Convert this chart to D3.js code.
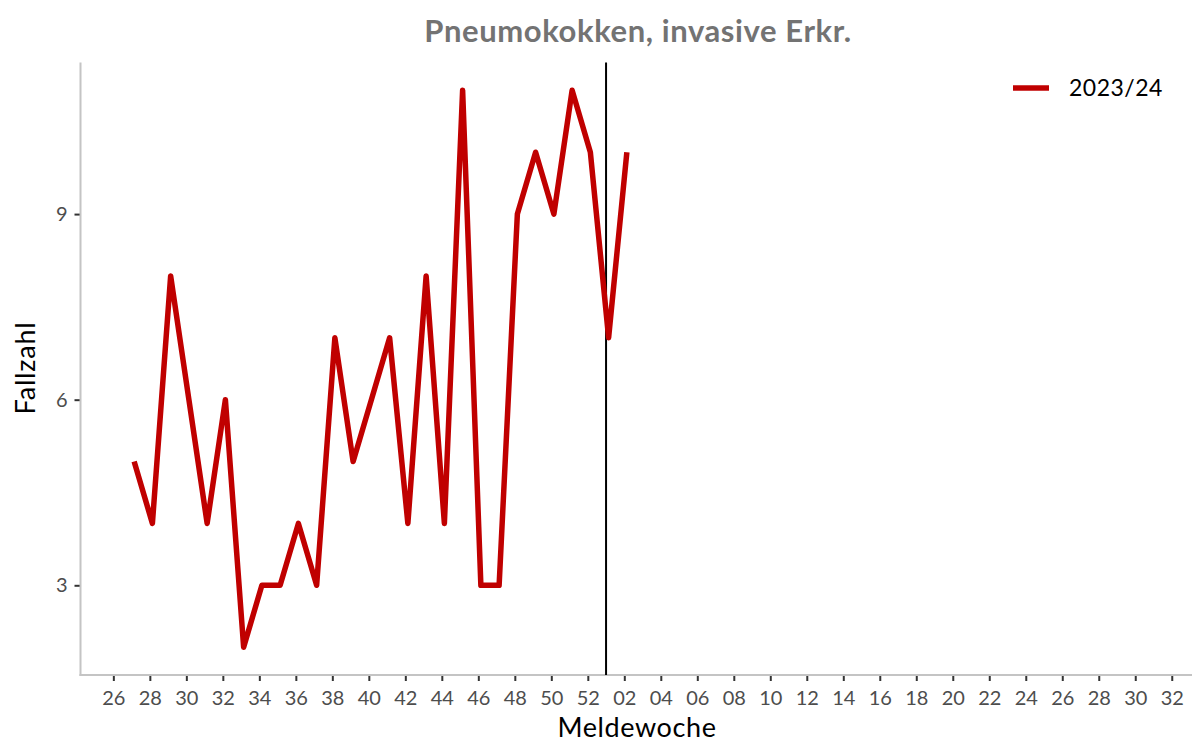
<!DOCTYPE html>
<html><head><meta charset="utf-8">
<script src="https://cdn.jsdelivr.net/npm/d3@7"></script>
<style>body{margin:0;background:#fff}svg{display:block}text{font-family:Lato,"Open Sans",sans-serif}</style>
</head><body><svg id="c" width="1192" height="742"></svg>
<script>
// axis week sequence (season 26 .. 52, 01 .. 32)
const axisWeeks = ["26","27","28","29","30","31","32","33","34","35","36","37","38","39","40","41","42","43","44","45","46","47","48","49","50","51","52","01","02","03","04","05","06","07","08","09","10","11","12","13","14","15","16","17","18","19","20","21","22","23","24","25","26b","27b","28b","29b","30b","31b","32b"];
const tickWeeks = ["26","28","30","32","34","36","38","40","42","44","46","48","50","52","02","04","06","08","10","12","14","16","18","20","22","24","26b","28b","30b","32b"];
const dataWeeks = ["27","28","29","30","31","32","33","34","35","36","37","38","39","40","41","42","43","44","45","46","47","48","49","50","51","52","01","02"];
const cases2023 = [5,4,8,6,4,6,2,3,3,4,3,7,5,6,7,4,8,4,11,3,3,9,10,9,11,10,7,10];
const yTicks = [3,6,9];
const currentWeek = "01";
const seriesName = "2023/24";
const title = "Pneumokokken, invasive Erkr.";

const svg = d3.select("#c");
const L = 80.5, R = 1190, T = 62.5, B = 675;
const idx = w => axisWeeks.indexOf(w);
const x = d3.scaleLinear().domain([-1.8, 59.0]).range([L, R]);
const y = d3.scaleLinear().domain([1.55, 11.45]).range([B, T]);
const dataShift = 0.14; // data plotted slightly after the week tick

// axes
const xAxis = d3.axisBottom(x).tickValues(tickWeeks.map(idx)).tickSize(6).tickPadding(9)
  .tickFormat(i => axisWeeks[i].replace("b",""));
const gx = svg.append("g").attr("transform", `translate(0,${B})`).call(xAxis);
gx.select(".domain").remove();
gx.selectAll(".tick line").attr("stroke", "#333").attr("stroke-width", 2);
gx.selectAll(".tick text").attr("fill", "#4d4d4d").attr("font-size", 20).attr("dy", "0.75em");

const yAxis = d3.axisLeft(y).tickValues(yTicks).tickSize(6).tickPadding(7);
const gy = svg.append("g").attr("transform", `translate(${L},0)`).call(yAxis);
gy.select(".domain").remove();
gy.selectAll(".tick line").attr("stroke", "#333").attr("stroke-width", 2);
gy.selectAll(".tick text").attr("fill", "#4d4d4d").attr("font-size", 20);

svg.append("line").attr("x1", L).attr("x2", L).attr("y1", T).attr("y2", B+1)
  .attr("stroke", "#c4c4c4").attr("stroke-width", 2);
svg.append("line").attr("x1", L-1).attr("x2", R+2).attr("y1", B).attr("y2", B)
  .attr("stroke", "#c4c4c4").attr("stroke-width", 2);

// current week marker
svg.append("line").attr("x1", x(idx(currentWeek))).attr("x2", x(idx(currentWeek)))
  .attr("y1", T).attr("y2", B).attr("stroke", "#000").attr("stroke-width", 2);

// series line
const line = d3.line().x((d,i) => x(idx(dataWeeks[i]) + dataShift)).y(d => y(d));
svg.append("path").datum(cases2023).attr("d", line).attr("fill", "none")
  .attr("stroke", "#c00000").attr("stroke-width", 5.5).attr("stroke-linejoin", "round");

// titles
svg.append("text").attr("x", 638).attr("y", 42).attr("text-anchor", "middle")
  .attr("font-size", 31).attr("font-weight", "bold").attr("letter-spacing", 0.6)
  .attr("fill", "#737373").text(title);
svg.append("text").attr("x", 637).attr("y", 737).attr("text-anchor", "middle")
  .attr("font-size", 27).attr("letter-spacing", 0.6).attr("fill", "#000").text("Meldewoche");
svg.append("text").attr("transform", `translate(35,368) rotate(-90)`).attr("text-anchor", "middle")
  .attr("font-size", 27).attr("letter-spacing", 0.8).attr("fill", "#000").text("Fallzahl");

// legend
svg.append("line").attr("x1", 1013).attr("x2", 1049).attr("y1", 88).attr("y2", 88)
  .attr("stroke", "#c00000").attr("stroke-width", 5.5);
svg.append("text").attr("x", 1069).attr("y", 88).attr("dy", "0.36em")
  .attr("font-size", 23).attr("letter-spacing", 0.5).attr("fill", "#000").text(seriesName);
</script></body></html>
